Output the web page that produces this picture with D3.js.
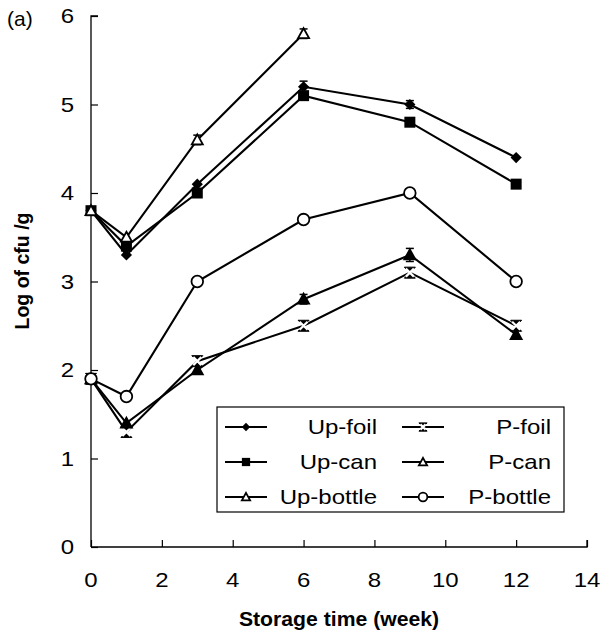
<!DOCTYPE html>
<html>
<head>
<meta charset="utf-8">
<script src="https://cdn.jsdelivr.net/npm/d3@7"></script>
<style>
  body { margin: 0; background: #fff; }
  svg text { font-family: "Liberation Sans", Arial, sans-serif; fill: #000; }
</style>
</head>
<body>
<svg id="chart" width="602" height="639"></svg>
<script>
// Storage weeks at which samples were counted
const weeks = [0, 1, 3, 6, 9, 12];

// Log cfu/g for each packaging treatment
const upFoil   = [3.8, 3.3, 4.1, 5.2, 5.0, 4.4];
const upCan    = [3.8, 3.4, 4.0, 5.1, 4.8, 4.1];
const upBottle = [3.8, 3.5, 4.6, 5.8];
const pFoil    = [1.9, 1.3, 2.1, 2.5, 3.1, 2.5];
const pCan     = [1.9, 1.4, 2.0, 2.8, 3.3, 2.4];
const pBottle  = [1.9, 1.7, 3.0, 3.7, 4.0, 3.0];

// Standard deviations (small caps drawn above/below the markers)
const upFoilErr   = [0, 0, 0, 0.03, 0.01, 0];
const upCanErr    = [0, 0, 0, 0, 0, 0];
const upBottleErr = [0, 0, 0.02, 0.02];
const pFoilErr    = [0, 0, 0, 0, 0, 0];
const pCanErr     = [0, 0, 0, 0.02, 0.04, 0];
const pBottleErr  = [0, 0, 0, 0, 0, 0];

const seriesNames = ["Up-foil", "Up-can", "Up-bottle", "P-foil", "P-can", "P-bottle"];
const xTicks = [0, 2, 4, 6, 8, 10, 12, 14];
const yTicks = [0, 1, 2, 3, 4, 5, 6];

const series = [
  { name: "Up-foil",   values: upFoil,   err: upFoilErr,   marker: "diamond" },
  { name: "Up-can",    values: upCan,    err: upCanErr,    marker: "square" },
  { name: "Up-bottle", values: upBottle, err: upBottleErr, marker: "triOpen" },
  { name: "P-foil",    values: pFoil,    err: pFoilErr,    marker: "bowtie" },
  { name: "P-can",     values: pCan,     err: pCanErr,     marker: "triFill" },
  { name: "P-bottle",  values: pBottle,  err: pBottleErr,  marker: "circle" }
];

const svg = d3.select("#chart");
const x = d3.scaleLinear().domain([0, 14]).range([91, 587]);
const y = d3.scaleLinear().domain([0, 6]).range([547, 16]);

// Text helper: the typeface is set slightly wide
function wideText(parent, tx, ty, str, opts) {
  const t = parent.append("text")
    .attr("transform", `translate(${tx},${ty}) scale(${opts.sx || 1.2},1)`)
    .attr("text-anchor", opts.anchor || "start")
    .attr("font-size", opts.size || 20)
    .text(str);
  if (opts.bold) t.attr("font-weight", "bold");
  if (opts.dy) t.attr("dy", opts.dy);
  return t;
}

// Axes with inward ticks
const yAxis = svg.append("g").attr("transform", `translate(${x(0)},0)`)
  .call(d3.axisRight(y).tickValues(yTicks).tickSize(7).tickFormat(""));
yAxis.select(".domain").attr("d", `M7,${y(6)}H0V${y(0)}`);
const xAxis = svg.append("g").attr("transform", `translate(0,${y(0)})`)
  .call(d3.axisTop(x).tickValues(xTicks).tickSize(7).tickFormat(""));
xAxis.select(".domain").attr("d", `M${x(0)},0H${x(14)}V-7`);
svg.selectAll(".domain").attr("stroke", "#000").attr("stroke-width", 1.3);
svg.selectAll(".tick line").attr("stroke", "#000").attr("stroke-width", 1.2);

// Tick labels
const yLab = svg.append("g");
yTicks.forEach(d => wideText(yLab, 74, y(d), d, { anchor: "end", dy: "0.36em" }));
const xLab = svg.append("g");
xTicks.forEach(d => wideText(xLab, x(d), 587, d, { anchor: "middle" }));

// Axis titles
wideText(svg, 339, 626, "Storage time (week)", { anchor: "middle", bold: true, sx: 1.06 });
svg.append("text").attr("transform", "translate(29,271) rotate(-90)")
  .attr("text-anchor", "middle").attr("font-size", 19.5).attr("font-weight", "bold")
  .text("Log of cfu /g");
svg.append("text").attr("x", 7).attr("y", 26).attr("font-size", 21).text("(a)");

// Marker drawing
function drawMarker(g, type, s) {
  s = s || 1;
  if (type === "diamond") {
    g.append("path").attr("d", d3.symbol(d3.symbolDiamond2, 80 * s * s)())
      .attr("fill", "#000");
  } else if (type === "square") {
    g.append("rect").attr("x", -5.5 * s).attr("y", -5.5 * s).attr("width", 11 * s).attr("height", 11 * s)
      .attr("fill", "#000");
  } else if (type === "triOpen" || type === "triFill") {
    const h = 5.5 * s;
    g.append("path").attr("d", `M0,${-h}L${h},${h * 0.8}L${-h},${h * 0.8}Z`)
      .attr("fill", type === "triFill" ? "#000" : "#fff")
      .attr("stroke", "#000").attr("stroke-width", 1.8);
  } else if (type === "bowtie") {
    const h = 5.5 * s;
    g.append("path").attr("d", `M${-h},${-h}L${h},${-h}L${-h},${h}L${h},${h}Z`)
      .attr("fill", "#000").attr("stroke", "#000").attr("stroke-width", 1);
    g.append("path").attr("d", `M${-h + 1.5},${-h + 1.5}L${h - 1.5},${h - 1.5}M${h - 1.5},${-h + 1.5}L${-h + 1.5},${h - 1.5}`)
      .attr("stroke", "#fff").attr("stroke-width", 2.2);
  } else if (type === "circle") {
    g.append("circle").attr("r", 5.8 * s).attr("fill", "#fff")
      .attr("stroke", "#000").attr("stroke-width", 1.8);
  }
}

const line = d3.line().x(d => x(d[0])).y(d => y(d[1]));

series.forEach(sr => {
  const pts = sr.values.map((v, i) => [weeks[i], v, sr.err[i]]);
  svg.append("path").attr("d", line(pts)).attr("fill", "none")
    .attr("stroke", "#000").attr("stroke-width", 2.1);
  // error bars
  pts.filter(p => p[2] > 0).forEach(p => {
    const eg = svg.append("g").attr("stroke", "#000").attr("stroke-width", 1.5);
    eg.append("line").attr("x1", x(p[0])).attr("x2", x(p[0]))
      .attr("y1", y(p[1] + p[2]) - 3).attr("y2", y(p[1] - p[2]) + 3);
    [p[1] + p[2], p[1] - p[2]].forEach((v, k) => {
      const yy = y(v) + (k === 0 ? -3 : 3);
      eg.append("line").attr("x1", x(p[0]) - 4).attr("x2", x(p[0]) + 4)
        .attr("y1", yy).attr("y2", yy);
    });
  });
  pts.forEach(p => {
    const g = svg.append("g").attr("transform", `translate(${x(p[0])},${y(p[1])})`);
    drawMarker(g, sr.marker);
  });
});

// Legend
const lg = svg.append("g");
lg.append("rect").attr("x", 217).attr("y", 407).attr("width", 347).attr("height", 105)
  .attr("fill", "#fff").attr("stroke", "#000").attr("stroke-width", 1.2);
const rowsY = [427, 462, 497];
const cols = [
  { x1: 225, x2: 267, tx: 377 },
  { x1: 402, x2: 444, tx: 551 }
];
const legendMarkers = ["diamond", "square", "triOpen", "bowtie", "triOpen", "circle"];
seriesNames.forEach((name, i) => {
  const c = cols[Math.floor(i / 3)];
  const ry = rowsY[i % 3];
  lg.append("line").attr("x1", c.x1).attr("x2", c.x2).attr("y1", ry).attr("y2", ry)
    .attr("stroke", "#000").attr("stroke-width", 1.8);
  const mg = lg.append("g").attr("transform", `translate(${(c.x1 + c.x2) / 2},${ry})`);
  drawMarker(mg, legendMarkers[i], 0.75);
  wideText(lg, c.tx, ry, name, { anchor: "end", dy: "0.36em" });
});
</script>
</body>
</html>
